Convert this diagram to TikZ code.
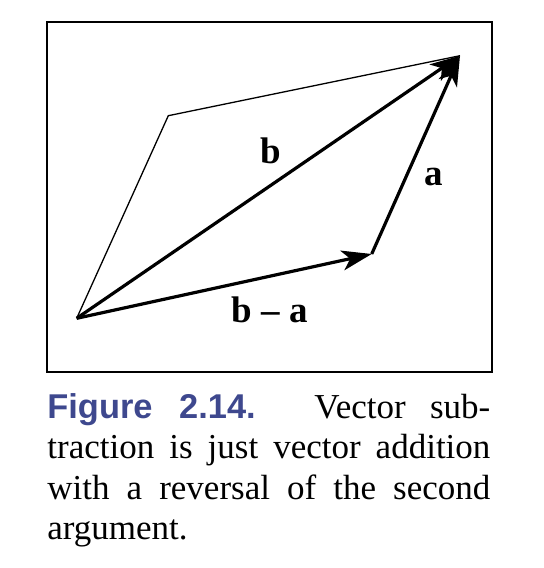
\documentclass[tikz,border=0pt]{standalone}
\usepackage{fontspec}
\setmainfont{Liberation Serif}
\setsansfont{Liberation Sans}
\usepackage{tikz}
\usetikzlibrary{arrows.meta}
\definecolor{figureblue}{RGB}{62,72,142}

\begin{document}
\begin{tikzpicture}[x=0.5pt,y=-0.5pt,
  vec/.style={line width=1.6pt,-{Stealth[length=15pt,width=10pt,inset=4pt]}},
  side/.style={line width=0.65pt},
  lbl/.style={font=\fontsize{18.5}{20}\selectfont\bfseries,inner sep=0pt,anchor=base},
  capline/.style={anchor=base west,inner sep=0pt,font=\fontsize{17.5}{20.8}\selectfont}]
\useasboundingbox (0,0) rectangle (544,568);
\draw [line width=1pt] (47,22) rectangle (492,371.5);
\coordinate (O) at (76.7,318.3);
\coordinate (U) at (168.3,115.7);
\coordinate (T) at (460,55.7);
\coordinate (A) at (371.7,254);
\draw [side] (O) -- (U) -- (T);
\draw [vec] (O) -- (T);
\draw [vec] (A) -- (T);
\draw [vec] (O) -- (A);
\node [lbl] (lb) at (271,163) {b};
\node [lbl] (la) at (434,185) {a};
\node [lbl] (lba) at (270,322) {b – a};
% caption
\node [capline] (cap1) at (47,418) {\makebox[221.5pt][s]{{\sffamily\bfseries\fontsize{17.2}{20.8}\selectfont\color{figureblue}Figure 2.14.} Vector sub-}};
\node [capline] (cap2) at (47,458.5) {\makebox[221.5pt][s]{traction is just vector addition}};
\node [capline] (cap3) at (47,499) {\makebox[221.5pt][s]{with a reversal of the second}};
\node [capline] (cap4) at (47,539.5) {argument.};
\end{tikzpicture}
\end{document}
